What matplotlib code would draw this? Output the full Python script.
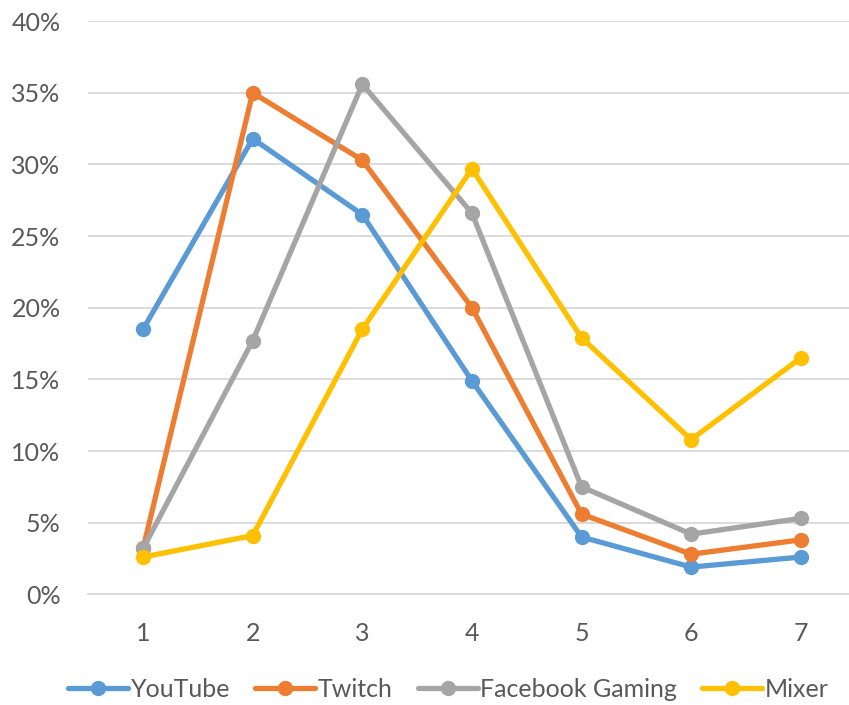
import matplotlib
matplotlib.use("Agg")
import matplotlib.pyplot as plt
from matplotlib.ticker import FuncFormatter

x = [1, 2, 3, 4, 5, 6, 7]
youtube = [18.5, 31.8, 26.5, 14.9, 4.0, 1.9, 2.6]
twitch = [3.2, 35.0, 30.3, 20.0, 5.6, 2.8, 3.8]
facebook = [3.2, 17.7, 35.6, 26.6, 7.5, 4.2, 5.3]
mixer = [2.6, 4.1, 18.5, 29.7, 17.9, 10.8, 16.5]

series = [("YouTube", youtube, "#5B9BD5"),
          ("Twitch", twitch, "#ED7D31"),
          ("Facebook Gaming", facebook, "#A5A5A5"),
          ("Mixer", mixer, "#FFC000")]

plt.rcParams['font.family'] = ['Lato', 'DejaVu Sans']

fig = plt.figure(figsize=(8.49, 7.05), dpi=100)
ax = fig.add_axes([0.104, 0.157, 0.896, 0.813])

for name, vals, col in series:
    ax.plot(x, vals, color=col, lw=3.8, marker="o", markersize=10, label=name,
            solid_capstyle="round")

ax.set_xlim(0.5, 7.44)
ax.set_ylim(0, 40)
ax.set_yticks(range(0, 41, 5))
ax.yaxis.set_major_formatter(FuncFormatter(lambda v, p: f"{int(v)}%"))
ax.set_xticks(x)
ax.grid(axis="y", color="#D9D9D9", lw=1.3)
ax.set_axisbelow(True)
for s in ["top", "right", "left"]:
    ax.spines[s].set_visible(False)
ax.spines["bottom"].set_color("#D9D9D9")
ax.spines["bottom"].set_linewidth(1.3)
ax.tick_params(axis="both", length=0, labelsize=18, colors="#595959")
ax.tick_params(axis="y", pad=20)
ax.tick_params(axis="x", pad=20)

fig.legend(loc="lower center", bbox_to_anchor=(0.528, -0.026), ncol=4, frameon=False,
           fontsize=18, handlelength=2.4, handletextpad=0.1, columnspacing=1.0,
           labelcolor="#595959")

fig.savefig("out.png", dpi=100)
